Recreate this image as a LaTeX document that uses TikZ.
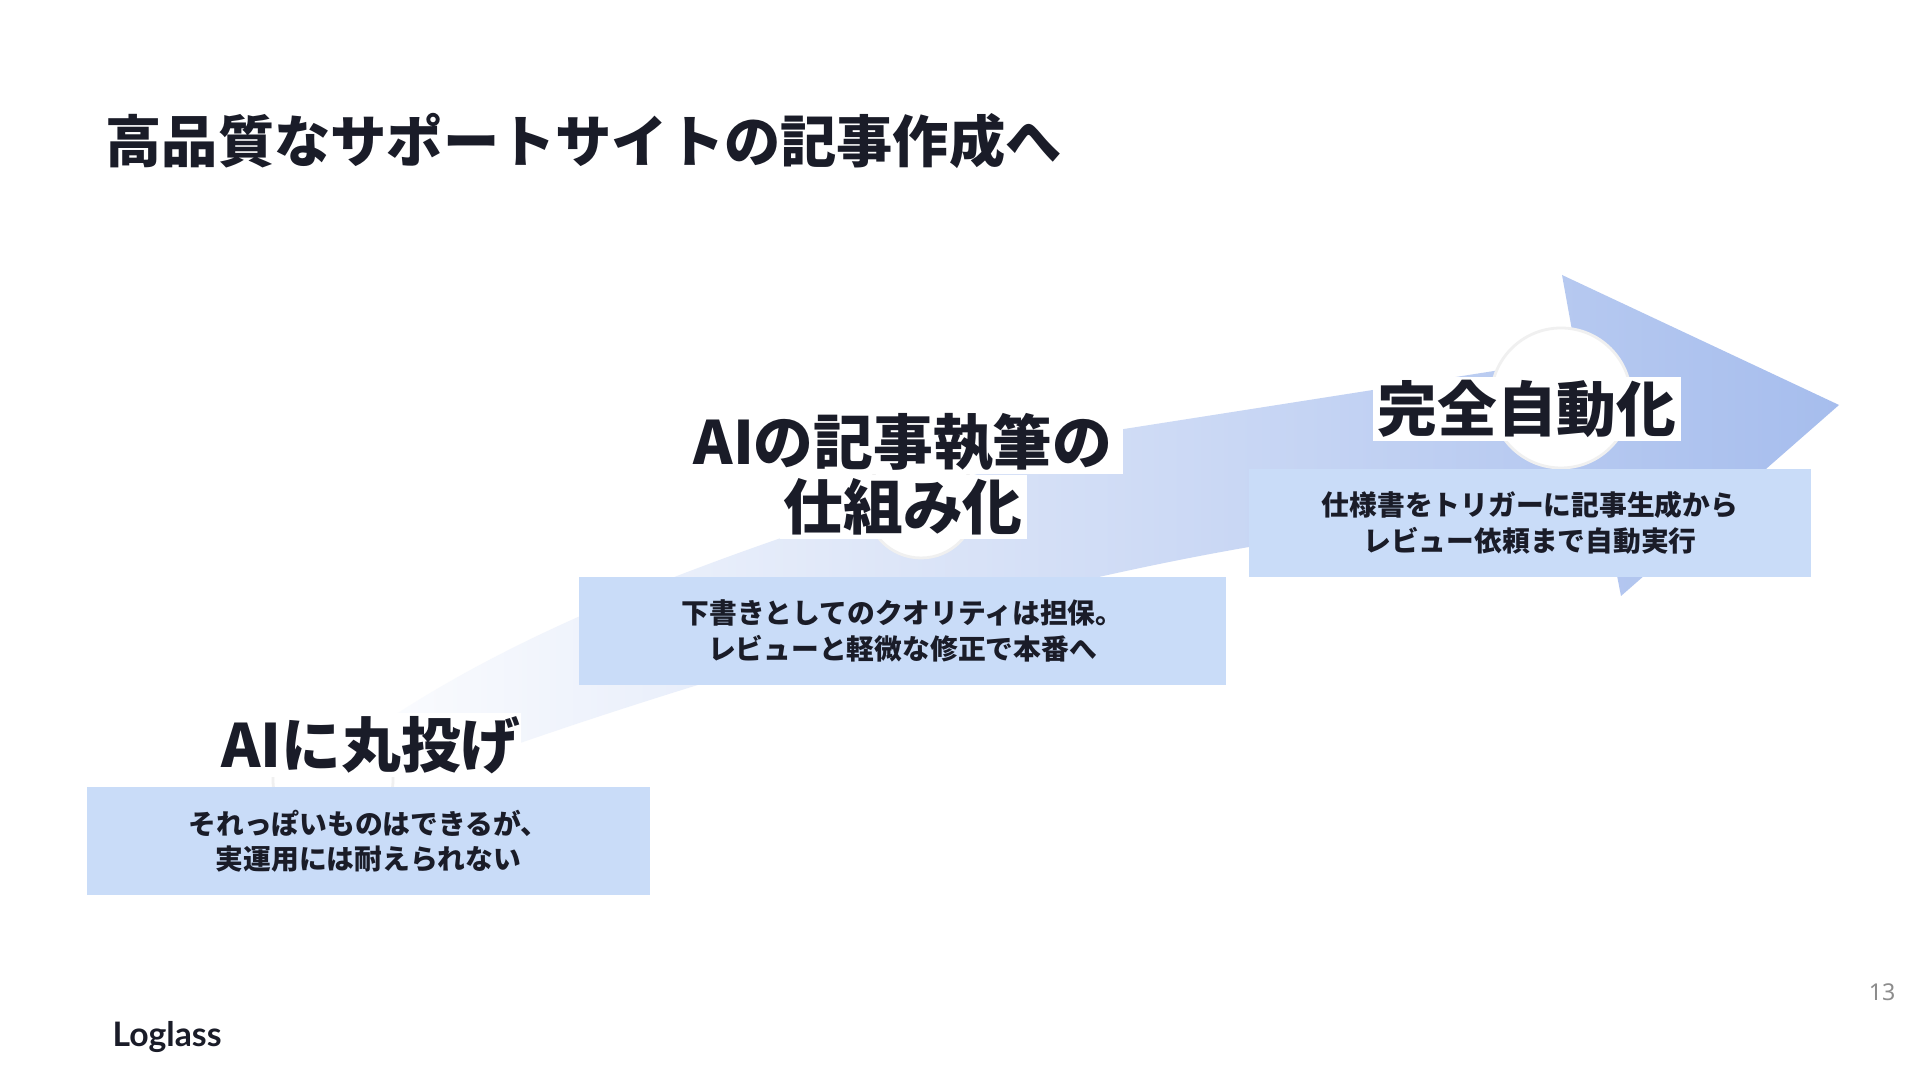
\documentclass[tikz,border=0pt]{standalone}
\usepackage{fontspec}
\usepackage{xcolor}
\usetikzlibrary{positioning}
\setmainfont{Noto Sans CJK JP}
\newfontfamily\logofont{Lato}
\newfontfamily\pagefont{Noto Sans}
\definecolor{ink}{RGB}{26, 28, 40}
\definecolor{boxblue}{RGB}{201, 220, 248}
\definecolor{arrowend}{RGB}{166, 189, 237}
\definecolor{arrowmid}{RGB}{219, 228, 248}
\definecolor{whale}{RGB}{38, 84, 200}
\tikzset{
    stepbox/.style={rectangle, fill=boxblue, text=ink, align=center, minimum height=1.08cm, inner sep=0pt, font=\fontsize{7.9}{10.1}\selectfont\bfseries},
    heading/.style={rectangle, fill=white, text=ink, align=center, minimum height=0.64cm, inner sep=0pt, font=\fontsize{17}{20}\selectfont\bfseries},
    bump/.style={circle, fill=white, draw=black!6, line width=0.8pt, inner sep=0pt}
}
\begin{document}
\begin{tikzpicture}
    \useasboundingbox (0,0) rectangle (19.2,10.8);
    \fill[white] (0,0) rectangle (19.2,10.8);
    \node[anchor=west, text=ink, inner sep=0pt, font=\fontsize{16}{19}\selectfont\bfseries] (title) at (1.05,9.39) {高品質なサポートサイトの記事作成へ};
    % rising arrow
    \shade[left color=white, middle color=arrowmid, right color=arrowend]
        (3.06,3.0) .. controls (5.0,4.6) and (7.6,5.4) .. (11.24,6.51)
        -- (15.77,7.22) -- (15.62,8.05) -- (18.39,6.75) -- (16.21,4.84) -- (16.04,5.7)
        -- (12.49,5.33) .. controls (10.0,4.9) and (7.0,4.0) .. (5.0,3.3) -- cycle;
    \node[bump, minimum size=1.2cm] (bumpa) at (3.33,3.0) {};
    \node[bump, minimum size=1.1cm] (bumpb) at (9.21,5.77) {};
    \node[bump, minimum size=1.4cm] (bumpc) at (15.61,6.82) {};
    % headings
    \node[heading, minimum width=2.94cm] (heada) at (3.71,3.35) {AIに丸投げ};
    \node[heading, minimum width=4.4cm] (headb) at (9.03,6.38) {AIの記事執筆の};
    \node[heading, minimum width=2.47cm] (headbb) at (9.03,5.73) {仕組み化};
    \node[heading, minimum width=3.08cm] (headc) at (15.27,6.71) {完全自動化};
    % text boxes
    \node[stepbox, minimum width=5.63cm] (boxa) at (3.685,2.39) {それっぽいものはできるが、\\実運用には耐えられない};
    \node[stepbox, minimum width=6.47cm] (boxb) at (9.025,4.49) {下書きとしてのクオリティは担保。\\レビューと軽微な修正で本番へ};
    \node[stepbox, minimum width=5.62cm] (boxc) at (15.30,5.57) {仕様書をトリガーに記事生成から\\レビュー依頼まで自動実行};
    % logo
    \begin{scope}[shift={(0,1.2)}, x=0.03333cm, y=-0.03333cm]
        \draw[whale, line width=0.9pt] (207,225) circle [radius=50];
        \fill[whale] (157,215) .. controls (165,175) and (220,155) .. (245,190) .. controls (255,205) and (250,215) .. (258,228)
            .. controls (275,235) and (290,220) .. (292,210) -- (290,188) -- (320,205) -- (300,215)
            .. controls (295,245) and (280,255) .. (262,262) -- (262,285) -- (235,283) -- (232,255)
            .. controls (245,240) and (235,215) .. (215,205) .. controls (195,190) and (170,195) .. (157,215) -- cycle;
        \fill[whale] (185,270) -- (212,272) -- (208,285) -- (190,285) -- cycle;
        \fill[white] (222,200) circle [radius=6];
    \end{scope}
    \node[anchor=base west, text=ink, inner sep=0pt, font=\fontsize{9.6}{11}\logofont\bfseries] (logo) at (1.12,0.33) {Loglass};
    \node[text=black!45, inner sep=0pt, font=\fontsize{6.6}{8}\pagefont] (pagenum) at (18.82,0.88) {13};
\end{tikzpicture}
\end{document}
